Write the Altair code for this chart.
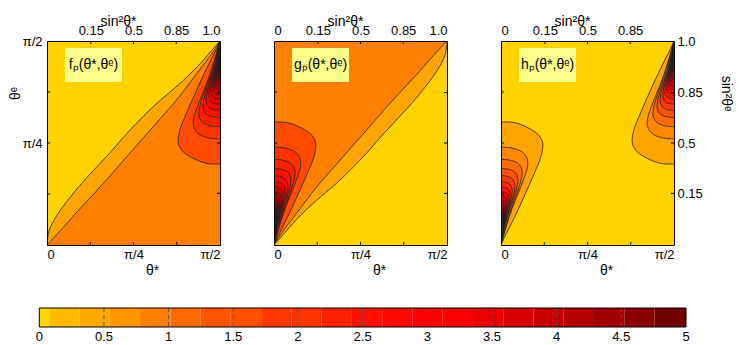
import math
import altair as alt
import pandas as pd

FONT = "Liberation Sans"
PW, PH = 173, 204          # plot area of one panel
BX0, BX1, BH = -7.7, 639, 19   # colour bar span (pixels, relative to the first panel) and height

# ---------------- values ----------------
# angles are fractions of pi/2  (0 -> 0, 1 -> pi/2)
# f_p : boundary yellow | light orange (theta*, theta_e)
A_U = [0, .01, .058, .174, .27, .367, .46, .56, .655, .753, .87, .95, 1]
A_V = [0, .065, .146, .276, .367, .455, .545, .634, .71, .78, .875, .952, 1]
# f_p : boundary light orange | orange
B_U = [0, .09, .174, .27, .367, .46, .56, .655, .753, .87, .95, 1]
B_V = [0, .082, .163, .25, .341, .432, .528, .62, .715, .845, .935, 1]
# nested contours leaving the theta*=pi/2 edge and closing in the corner (theta*, theta_e)
LOBES = [
    [(1, .397), (.923, .40), (.845, .425), (.787, .457), (.762, .49), (.758, .515), (.77, .57), (.806, .646), (.865, .76), (.923, .866), (.981, .964), (1, 1)],
    [(1, .52), (.94, .524), (.885, .54), (.855, .565), (.845, .595), (.85, .63), (.87, .68), (.9, .745), (.935, .82), (.968, .905), (1, 1)],
    [(1, .58), (.95, .584), (.905, .598), (.883, .62), (.878, .65), (.885, .685), (.905, .74), (.935, .81), (.965, .89), (1, 1)],
    [(1, .625), (.955, .629), (.92, .642), (.905, .662), (.902, .69), (.91, .725), (.928, .775), (.952, .835), (.976, .905), (1, 1)],
    [(1, .66), (.962, .664), (.935, .676), (.922, .695), (.92, .72), (.927, .755), (.943, .8), (.963, .855), (.982, .915), (1, 1)],
    [(1, .69), (.968, .694), (.946, .705), (.937, .722), (.936, .745), (.942, .777), (.956, .82), (.972, .87), (.987, .925), (1, 1)],
    [(1, .715), (.973, .719), (.956, .729), (.949, .745), (.948, .767), (.953, .797), (.965, .836), (.978, .882), (.99, .933), (1, 1)],
    [(1, .738), (.977, .742), (.964, .751), (.959, .766), (.958, .787), (.962, .815), (.972, .851), (.983, .893), (.992, .94), (1, 1)],
    [(1, .758), (.981, .762), (.971, .771), (.967, .785), (.966, .805), (.97, .831), (.978, .865), (.987, .903), (.994, .946), (1, 1)],
    [(1, .777), (.984, .781), (.976, .789), (.973, .803), (.972, .822), (.975, .846), (.982, .878), (.989, .913), (.995, .951), (1, 1)],
    [(1, .795), (.987, .799), (.98, .807), (.978, .82), (.977, .838), (.98, .861), (.985, .89), (.991, .922), (.996, .956), (1, 1)],
    [(1, .812), (.989, .816), (.984, .824), (.982, .836), (.981, .853), (.983, .874), (.988, .9), (.993, .93), (.997, .961), (1, 1)],
    [(1, .828), (.991, .832), (.987, .84), (.985, .851), (.985, .867), (.987, .886), (.99, .91), (.994, .938), (.997, .965), (1, 1)],
    [(1, .844), (.993, .848), (.989, .855), (.988, .866), (.988, .88), (.99, .898), (.993, .92), (.995, .945), (.998, .97), (1, 1)],
    [(1, .86), (.994, .864), (.991, .871), (.99, .881), (.99, .894), (.992, .91), (.994, .93), (.996, .952), (.998, .974), (1, 1)],
    [(1, .876), (.995, .88), (.993, .886), (.992, .895), (.992, .907), (.993, .921), (.995, .94), (.997, .96), (.999, .979), (1, 1)],
]
# axis ticks
THETA_TICKS = [0, 0.5, 1]
THETA_LABELS = ["0", "π/4", "π/2"]
MINOR_TICKS = [0.25, 0.5, 0.75]
SIN2_VALUES = [0, 0.15, 0.5, 0.85, 1.0]
SIN2_LABELS = ["0", "0.15", "0.5", "0.85", "1.0"]
# colour bar
BAR_EDGES = [0, .077, .311, .545, .779, 1.013, 1.247, 1.481, 1.715, 1.949, 2.183, 2.417,
             2.651, 2.885, 3.119, 3.353, 3.587, 3.821, 4.055, 4.289, 4.523, 4.757, 5.0]
BAR_TICKS = [0, 0.5, 1, 1.5, 2, 2.5, 3, 3.5, 4, 4.5, 5]
BAR_LABELS = ["0", "0.5", "1", "1.5", "2", "2.5", "3", "3.5", "4", "4.5", "5"]

# ---------------- styles ----------------
YELLOW, LIGHT, ORANGE = "#FFD200", "#FFA500", "#FF7F00"
F_LOBE_COLORS = ["#FF4A00", "#FF3300", "#FF2000", "#FF1000", "#FF0300", "#EE0000", "#DA0000", "#C60000",
                 "#B20000", "#9E0000", "#8A0000", "#780000", "#680000", "#5A0000", "#500000", "#480000"]
H_LOBE_COLORS = ["#FFA500", "#FF8800", "#FF6C00", "#FF5200", "#FF3B00", "#FF2600", "#FF1400", "#FF0500",
                 "#EE0000", "#D60000", "#BE0000", "#A60000", "#8E0000", "#780000", "#640000", "#540000"]
BAR_COLORS = ["#FFD700", "#FFBA00", "#FFA800", "#FF9600", "#FF8000", "#FF6A00", "#FF5400", "#FF5000",
              "#FF3800", "#FF3400", "#FF2000", "#FF1000", "#FF0600", "#FF0000", "#FA0000", "#E80000",
              "#D60000", "#C60000", "#B40000", "#A00000", "#880000", "#700000"]
LINE = "#222222"
BOX = "#FFFF8C"

SIN2_POS = [math.asin(math.sqrt(s)) / (math.pi / 2) for s in SIN2_VALUES]
S = alt.Scale(domain=[0, 1], nice=False, zero=False)


def label_expr(values, labels):
    return ("[" + ",".join("'%s'" % l for l in labels) + "][indexof([" +
            ",".join(repr(float(v)) for v in values) + "], datum.value)]")


def axis(orient, values=None, labels=None, title=None, **kw):
    base = dict(orient=orient, grid=False, ticks=False, tickSize=0, domain=True, domainColor="black",
                domainWidth=1, zindex=2, labelFont=FONT, labelFontSize=13, labelColor="black",
                titleFont=FONT, titleFontWeight="normal", titleColor="black")
    if values is None:
        base.update(labels=False, title=None)
    else:
        base.update(values=[float(v) for v in values], labelExpr=label_expr(values, labels),
                    labelAngle=0)
        base["title"] = title
    base.update(kw)
    return alt.Axis(**base)


def curve_df(us, vs, k=0, mirror=False):
    us, vs = list(us), list(vs)
    if mirror:
        us = [1 - u for u in us][::-1]
        vs = [1 - v for v in vs][::-1]
    return pd.DataFrame({"u": us, "v": vs, "i": range(len(us)), "k": k})


def area_under(df, color):
    return alt.Chart(df).mark_area(interpolate="catmull-rom", color=color, clip=True).encode(
        x=alt.X("u:Q", scale=S, axis=None), y=alt.Y("v:Q", scale=S, axis=None), y2=alt.Y2(datum=0))


def area_side(df, color, edge):
    return alt.Chart(df).mark_area(orient="horizontal", interpolate="catmull-rom", color=color,
                                   clip=True).encode(
        y=alt.Y("v:Q", scale=S, axis=None), x=alt.X("u:Q", scale=S, axis=None), x2=alt.X2(datum=edge))


def lines(dfs):
    df = pd.concat(dfs, ignore_index=True)
    return alt.Chart(df).mark_line(interpolate="catmull-rom", color=LINE, strokeWidth=0.8,
                                   clip=True).encode(
        x=alt.X("u:Q", scale=S, axis=None), y=alt.Y("v:Q", scale=S, axis=None),
        detail="k:N", order="i:Q")


def ticks():
    lay = []
    m = pd.DataFrame({"t": MINOR_TICKS})
    s = pd.DataFrame({"t": SIN2_POS[1:-1]})
    lay.append(alt.Chart(m).mark_rule(color="black").encode(
        x=alt.X("t:Q", scale=S, axis=None), y=alt.value(PH), y2=alt.value(PH - 3)))
    lay.append(alt.Chart(m).mark_rule(color="black").encode(
        y=alt.Y("t:Q", scale=S, axis=None), x=alt.value(0), x2=alt.value(3)))
    lay.append(alt.Chart(s).mark_rule(color="black").encode(
        x=alt.X("t:Q", scale=S, axis=None), y=alt.value(0), y2=alt.value(3)))
    lay.append(alt.Chart(s).mark_rule(color="black").encode(
        y=alt.Y("t:Q", scale=S, axis=None), x=alt.value(PW), x2=alt.value(PW - 3)))
    return lay


def guard(x, y1, y2):
    # invisible rule that fixes the outer bounds used by the layout
    return alt.Chart(pd.DataFrame({"t": [0]})).mark_rule(color="white", strokeOpacity=0).encode(
        x=alt.value(x), x2=alt.value(x), y=alt.value(y1), y2=alt.value(y2))


def panel(kind):
    frame = pd.DataFrame({"u": [THETA_TICKS[0]], "u2": [THETA_TICKS[-1]],
                          "v": [THETA_TICKS[0]], "v2": [THETA_TICKS[-1]]})
    bottom = axis("bottom", THETA_TICKS, THETA_LABELS, "θ*", labelPadding=3, titleFontSize=14,
                  titleX=105, titleY=29, titleBaseline="alphabetic")
    top_kw = dict(labelPadding=4, titleFontSize=14, titleX=71, titleY=-16, titleBaseline="alphabetic")
    if kind == "f":
        bg = YELLOW
        left = axis("left", THETA_TICKS[1:], THETA_LABELS[1:], "θᵉ", labelPadding=5, titleFontSize=14,
                    titleX=-31.5, titleY=52, titleAngle=-90, titleBaseline="middle")
        top = axis("top", SIN2_POS[1:], SIN2_LABELS[1:], "sin²θ*", **top_kw)
        right = axis("right")
    elif kind == "g":
        bg = ORANGE
        left = axis("left")
        top = axis("top", SIN2_POS, SIN2_LABELS, "sin²θ*", **top_kw)
        right = axis("right")
    else:
        bg = YELLOW
        left = axis("left")
        top = axis("top", SIN2_POS[:-1], SIN2_LABELS[:-1], "sin²θ*", **top_kw)
        right = axis("right", SIN2_POS[1:], SIN2_LABELS[1:], "sin²θᵉ", labelPadding=3, titleFontSize=14,
                     titleX=51, titleY=52, titleAngle=90, titleBaseline="middle")

    base = alt.Chart(frame).mark_rect(color=bg).encode(
        x=alt.X("u:Q", scale=S, axis=bottom), x2="u2", y=alt.Y("v:Q", scale=S, axis=left), y2="v2")
    layers = [base]
    line_dfs = []
    dA = curve_df(A_U, A_V, "A", mirror=(kind == "g"))
    dB = curve_df(B_U, B_V, "B", mirror=(kind == "g"))
    if kind == "f":
        layers += [area_under(dA, LIGHT), area_under(dB, ORANGE)]
        line_dfs += [dA, dB]
    elif kind == "g":
        layers += [area_under(dB, LIGHT), area_under(dA, YELLOW)]
        line_dfs += [dA, dB]
    colors = F_LOBE_COLORS if kind in ("f", "g") else H_LOBE_COLORS
    sides = {"f": [False], "g": [True], "h": [False, True]}[kind]
    for mirror in sides:
        for k, pts in enumerate(LOBES):
            d = curve_df([p[0] for p in pts], [p[1] for p in pts], "L%d%s" % (k, mirror), mirror)
            layers.append(area_side(d, colors[k], 0 if mirror else 1))
            line_dfs.append(d)
    layers.append(lines(line_dfs))
    layers += ticks()
    name = {"f": "fₚ(θ*,θᵉ)", "g": "gₚ(θ*,θᵉ)", "h": "hₚ(θ*,θᵉ)"}[kind]
    one = pd.DataFrame({"t": [name]})
    layers.append(alt.Chart(one).mark_rect(color=BOX).encode(
        x=alt.value(18), x2=alt.value(75), y=alt.value(7), y2=alt.value(41)))
    layers.append(alt.Chart(one).mark_text(font=FONT, fontSize=14, color="black", align="center",
                                           baseline="middle").encode(
        text="t:N", x=alt.value(46.5), y=alt.value(24)))
    if kind == "f":
        layers.append(guard(-38.5, -32.5, PH + 40))
    layers.append(alt.Chart(frame).mark_rect(fillOpacity=0, strokeOpacity=0).encode(
        x=alt.X("u:Q", scale=S, axis=top), x2="u2", y=alt.Y("v:Q", scale=S, axis=right), y2="v2"))
    return alt.layer(*layers).resolve_axis(x="independent", y="independent").properties(
        width=PW, height=PH)


# colour bar
bar_df = pd.DataFrame({"lo": BAR_EDGES[:-1], "hi": BAR_EDGES[1:], "c": BAR_COLORS})
BS = alt.Scale(domain=[BAR_TICKS[0], BAR_TICKS[-1]], range=[BX0, BX1], nice=False, zero=False)
bars = alt.Chart(bar_df).mark_rect().encode(
    x=alt.X("lo:Q", scale=BS, axis=None), x2="hi", y=alt.value(0), y2=alt.value(BH),
    color=alt.Color("c:N", scale=None))
dashes = alt.Chart(pd.DataFrame({"t": BAR_TICKS[1:-1]})).mark_rule(
    color="#555555", strokeDash=[4, 3], strokeWidth=1).encode(
    x=alt.X("t:Q", scale=BS, axis=None), y=alt.value(0), y2=alt.value(BH))
bframe = alt.Chart(pd.DataFrame({"t": [0]})).mark_rect(fillOpacity=0, stroke="black",
                                                       strokeWidth=1).encode(
    x=alt.value(BX0), x2=alt.value(BX1), y=alt.value(0), y2=alt.value(BH))
blabels = alt.Chart(pd.DataFrame({"t": BAR_TICKS, "s": BAR_LABELS})).mark_text(
    font=FONT, fontSize=13, color="black", align="center", baseline="top").encode(
    x=alt.X("t:Q", scale=BS, axis=None), y=alt.value(BH + 4), text="s:N")
cbar = alt.layer(bars, dashes, bframe, blabels, guard(BX0, -2, BH)).properties(width=BX1, height=BH)

panels = alt.hconcat(panel("f"), panel("g"), panel("h"), spacing=54, bounds="flush")
chart = alt.vconcat(panels, cbar, spacing=21).properties(
    padding={"left": 0, "top": 0, "right": 4, "bottom": 0}, background="white"
).configure_view(stroke=None)

chart.save("out.html", embed_options={"renderer": "svg", "actions": False})
